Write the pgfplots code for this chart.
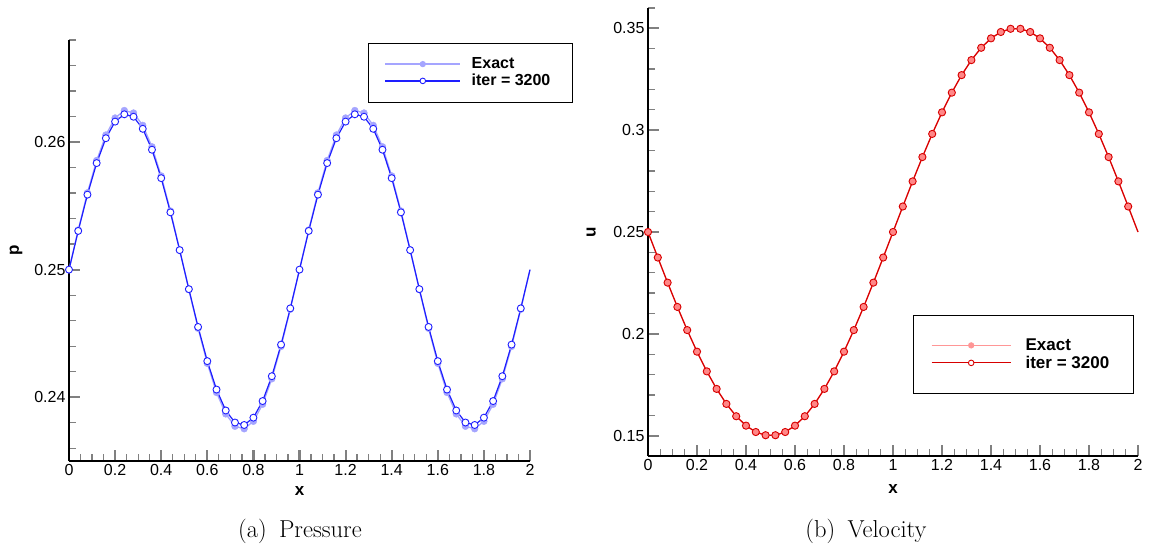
\documentclass[border=0pt]{standalone}
\usepackage{fontspec}
\usepackage{pgfplots}
\usepackage{pgfplotstable}
\pgfplotsset{compat=1.18}
\newfontfamily\arial{Liberation Sans}
\newcommand{\tickfont}{\arial\fontsize{16}{19}\selectfont}
\newcommand{\labfont}{\arial\bfseries\fontsize{17}{20}\selectfont}
\definecolor{pexact}{RGB}{165,165,255}
\definecolor{pnum}{RGB}{30,30,255}
\definecolor{uexact}{RGB}{255,150,150}
\definecolor{unum}{RGB}{215,0,0}

\pgfplotstableread{
x ex num
0.00 0.250000 0.250000
0.04 0.253109 0.253034
0.08 0.256022 0.255877
0.12 0.258557 0.258352
0.16 0.260554 0.260301
0.20 0.261888 0.261603
0.24 0.262475 0.262176
0.28 0.262279 0.261984
0.32 0.261310 0.261039
0.36 0.259631 0.259400
0.40 0.257347 0.257171
0.44 0.254602 0.254491
0.48 0.251567 0.251529
0.52 0.248433 0.248471
0.56 0.245398 0.245509
0.60 0.242653 0.242829
0.64 0.240369 0.240600
0.68 0.238690 0.238961
0.72 0.237721 0.238016
0.76 0.237525 0.237824
0.80 0.238112 0.238397
0.84 0.239446 0.239699
0.88 0.241443 0.241648
0.92 0.243978 0.244123
0.96 0.246891 0.246966
1.00 0.250000 0.250000
1.04 0.253109 0.253034
1.08 0.256022 0.255877
1.12 0.258557 0.258352
1.16 0.260554 0.260301
1.20 0.261888 0.261603
1.24 0.262475 0.262176
1.28 0.262279 0.261984
1.32 0.261310 0.261039
1.36 0.259631 0.259400
1.40 0.257347 0.257171
1.44 0.254602 0.254491
1.48 0.251567 0.251529
1.52 0.248433 0.248471
1.56 0.245398 0.245509
1.60 0.242653 0.242829
1.64 0.240369 0.240600
1.68 0.238690 0.238961
1.72 0.237721 0.238016
1.76 0.237525 0.237824
1.80 0.238112 0.238397
1.84 0.239446 0.239699
1.88 0.241443 0.241648
1.92 0.243978 0.244123
1.96 0.246891 0.246966
2.00 0.250000 0.250000
}\pdata

\pgfplotstableread{
x ex num
0.00 0.250000 0.250000
0.04 0.237467 0.237470
0.08 0.225131 0.225140
0.12 0.213188 0.213200
0.16 0.201825 0.201840
0.20 0.191221 0.191240
0.24 0.181545 0.181560
0.28 0.172949 0.172960
0.32 0.165567 0.165580
0.36 0.159517 0.159530
0.40 0.154894 0.154905
0.44 0.151771 0.151780
0.48 0.150197 0.150205
0.52 0.150197 0.150205
0.56 0.151771 0.151780
0.60 0.154894 0.154905
0.64 0.159517 0.159530
0.68 0.165567 0.165580
0.72 0.172949 0.172960
0.76 0.181545 0.181560
0.80 0.191221 0.191240
0.84 0.201825 0.201840
0.88 0.213188 0.213200
0.92 0.225131 0.225140
0.96 0.237467 0.237470
1.00 0.250000 0.250000
1.04 0.262533 0.262530
1.08 0.274869 0.274860
1.12 0.286812 0.286800
1.16 0.298175 0.298160
1.20 0.308779 0.308760
1.24 0.318455 0.318440
1.28 0.327051 0.327040
1.32 0.334433 0.334420
1.36 0.340483 0.340470
1.40 0.345106 0.345095
1.44 0.348229 0.348220
1.48 0.349803 0.349795
1.52 0.349803 0.349795
1.56 0.348229 0.348220
1.60 0.345106 0.345095
1.64 0.340483 0.340470
1.68 0.334433 0.334420
1.72 0.327051 0.327040
1.76 0.318455 0.318440
1.80 0.308779 0.308760
1.84 0.298175 0.298160
1.88 0.286812 0.286800
1.92 0.274869 0.274860
1.96 0.262533 0.262530
2.00 0.250000 0.250000
}\udata

\pgfplotsset{
  myax/.style={
    scale only axis,
    axis x line=bottom, axis y line=left,
    axis line style={-, line width=2.8pt, black},
    tick align=inside,
    major tick length=11pt, minor tick length=7pt,
    every major tick/.append style={line width=2.2pt},
    every minor tick/.append style={line width=1.3pt},
    xmin=0, xmax=2,
    xtick={0,0.2,0.4,0.6,0.8,1,1.2,1.4,1.6,1.8,2},
    minor x tick num=3,
    tick label style={font=\tickfont},
    /pgf/number format/assume math mode=true,
    scaled ticks=false,
    xlabel={x},
    xlabel style={font=\labfont, at={(axis description cs:0.5,0)}, anchor=center},
    ylabel style={font=\labfont, anchor=center, rotate=0},
    legend cell align=left,
    clip=false,
  }
}

\begin{document}
\begin{tikzpicture}
\useasboundingbox (0,0) rectangle (1149pt,-549pt);

% ---------- (a) Pressure ----------
\begin{axis}[myax,
  at={(69pt,-461pt)}, anchor=south west,
  width=461pt, height=421pt,
  ymin=0.235, ymax=0.268,
  ytick={0.23,0.24,0.25,0.26,0.27},
  minor y tick num=4,
  xlabel style={yshift=-30pt},
  ylabel={p},
  ylabel style={at={(axis description cs:-0.115,0.5)}},
  legend style={at={(axis description cs:0.649,0.993)}, anchor=north west,
    draw=black, fill=white, line width=0.8pt,
    font=\arial\bfseries\fontsize{16}{19}\selectfont,
    inner xsep=16pt, inner ysep=12.5pt,
    nodes={inner xsep=6pt, inner ysep=2pt}},
]
\addlegendimage{legend image code/.code={%
  \path (0pt,0pt) (80pt,0pt);
  \draw[pexact, line width=1.4pt] (0pt,0pt) -- (75pt,0pt);
  \fill[pexact] (37.5pt,0pt) circle (2.7pt);}}
\addlegendentry{Exact}
\addlegendimage{legend image code/.code={%
  \path (0pt,0pt) (80pt,0pt);
  \draw[pnum, line width=1.2pt] (0pt,0pt) -- (75pt,0pt);
  \draw[pnum, fill=white, line width=0.9pt] (37.5pt,0pt) circle (2.8pt);}}
\addlegendentry{iter = 3200}

\addplot[forget plot, draw=pexact, line width=1.3pt, no marks] table[x=x,y=ex] {\pdata};
\addplot[forget plot, only marks, restrict x to domain=0:1.97, mark=*, mark size=3.4pt,
  mark options={fill=pexact, draw=pexact}] table[x=x,y=ex] {\pdata};
\addplot[forget plot, draw=pnum, line width=1.2pt, no marks] table[x=x,y=num] {\pdata};
\addplot[forget plot, only marks, restrict x to domain=0:1.97, mark=*, mark size=3.5pt,
  mark options={fill=white, draw=pnum, line width=0.9pt}] table[x=x,y=num] {\pdata};
\end{axis}

% ---------- (b) Velocity ----------
\begin{axis}[myax,
  at={(648pt,-456pt)}, anchor=south west,
  width=490pt, height=448pt,
  ymin=0.14, ymax=0.36,
  ytick={0.1,0.15,0.2,0.25,0.3,0.35,0.4},
  minor y tick num=4,
  xlabel style={yshift=-33pt},
  ylabel={u},
  ylabel style={at={(axis description cs:-0.116,0.5)}},
  legend style={at={(axis description cs:0.541,0.315)}, anchor=north west,
    draw=black, line width=0.8pt, fill=white,
    font=\arial\bfseries\fontsize{17}{20}\selectfont,
    inner xsep=17.5pt, inner ysep=21.5pt,
    nodes={inner xsep=6.5pt, inner ysep=2pt}},
]
\addlegendimage{legend image code/.code={%
  \path (0pt,0pt) (87pt,0pt);
  \draw[uexact, line width=1.4pt] (0pt,0pt) -- (79pt,0pt);
  \fill[uexact] (39.5pt,0pt) circle (2.7pt);}}
\addlegendentry{Exact}
\addlegendimage{legend image code/.code={%
  \path (0pt,0pt) (87pt,0pt);
  \draw[unum, line width=1.2pt] (0pt,0pt) -- (79pt,0pt);
  \draw[unum, fill=white, line width=0.9pt] (39.5pt,0pt) circle (2.8pt);}}
\addlegendentry{iter = 3200}

\addplot[forget plot, draw=uexact, line width=1.3pt, no marks] table[x=x,y=ex] {\udata};
\addplot[forget plot, only marks, restrict x to domain=0:1.97, mark=*, mark size=3.6pt,
  mark options={fill=uexact!90!red, draw=uexact}] table[x=x,y=ex] {\udata};
\addplot[forget plot, draw=unum, line width=1.2pt, no marks] table[x=x,y=num] {\udata};
\addplot[forget plot, only marks, restrict x to domain=0:1.97, mark=o, mark size=3.6pt,
  mark options={draw=unum, line width=0.9pt}] table[x=x,y=num] {\udata};
\end{axis}

% captions
\node[anchor=base, font=\fontsize{24.5}{29}\selectfont] at (300pt,-537pt) {(a)\enspace Pressure};
\node[anchor=base, font=\fontsize{24.5}{29}\selectfont] at (866pt,-537pt) {(b)\enspace Velocity};
\end{tikzpicture}
\end{document}
